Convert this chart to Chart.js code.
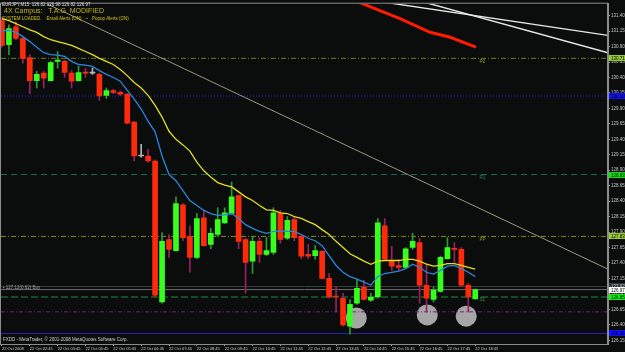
<!DOCTYPE html>
<html>
<head>
<meta charset="utf-8">
<script src="https://cdn.jsdelivr.net/npm/chart.js@4.4.1/dist/chart.umd.min.js"></script>
<style>
  html, body { margin: 0; padding: 0; background: #0a0d0c; }
</style>
</head>
<body>
<canvas id="chart" width="625" height="352"></canvas>
<script>
// EURJPY M15 candles, 22 Oct 2008 (bar 0 = 01:45)
const opens  = [131.32,130.93,131.22,131.03,130.72,130.35,130.47,130.35,130.66,130.66,130.47,130.35,130.48,130.47,130.45,130.11,130.19,130.16,130.13,129.68,129.13,129.13,129.05,126.77,127.78,127.60,128.34,127.83,127.49,128.13,127.70,127.86,128.05,128.20,128.49,127.78,127.43,127.75,127.54,127.57,128.20,127.80,128.10,127.83,127.54,127.52,127.59,127.15,126.86,126.83,126.38,126.75,127.01,126.80,126.85,128.00,127.43,127.36,127.33,127.65,127.73,127.04,126.81,126.94,127.47,127.63,127.62,127.04,126.82];
const highs  = [131.37,131.25,131.30,131.05,130.77,130.50,130.50,130.66,130.82,130.68,130.51,130.58,130.55,130.55,130.47,130.23,130.21,130.18,130.14,129.69,129.32,129.24,129.07,127.89,127.86,128.47,128.36,128.00,128.20,128.26,127.96,128.29,128.29,128.71,128.50,127.80,127.83,127.81,127.81,128.29,128.25,128.15,128.15,127.84,127.70,127.68,127.60,127.23,127.02,126.91,126.81,127.14,127.12,126.91,128.12,128.12,127.67,127.46,127.65,127.88,127.80,127.39,127.01,127.51,127.81,127.73,127.65,127.07,126.98];
const lows   = [130.89,130.77,131.01,130.63,130.14,130.23,130.23,130.34,130.55,130.40,130.23,130.34,130.40,130.45,130.03,130.06,130.14,130.11,129.65,129.05,129.11,129.03,126.85,126.75,127.49,127.59,127.76,127.25,127.47,127.67,127.63,127.83,128.04,128.18,127.63,126.91,127.23,127.41,127.52,127.54,127.72,127.78,127.76,127.47,127.47,127.46,127.14,126.83,126.61,126.38,126.25,126.73,126.80,126.78,126.83,127.44,127.28,127.28,127.31,127.62,126.75,126.61,126.77,126.93,127.46,127.41,127.02,126.61,126.82];
const closes = [130.92,131.19,131.03,130.71,130.35,130.45,130.39,130.64,130.68,130.48,130.34,130.48,130.47,130.47,130.10,130.19,130.16,130.13,129.66,129.13,129.13,129.05,126.88,127.75,127.62,128.36,127.81,127.49,128.12,127.68,127.88,128.10,128.21,128.47,127.75,127.41,127.75,127.54,127.60,128.21,127.78,128.09,127.81,127.51,127.51,127.60,127.15,126.85,126.85,126.40,126.73,126.99,126.81,126.85,128.05,127.46,127.35,127.33,127.63,127.75,127.04,126.83,126.96,127.49,127.65,127.62,127.04,126.85,126.97];

// moving averages
const maSlow = [131.35,131.32,131.27,131.22,131.17,131.13,131.06,131.01,130.98,130.95,130.92,130.87,130.82,130.77,130.71,130.66,130.61,130.53,130.43,130.32,130.23,130.11,129.95,129.76,129.53,129.40,129.31,129.21,129.03,128.89,128.79,128.70,128.66,128.63,128.55,128.47,128.41,128.33,128.26,128.25,128.21,128.20,128.15,128.12,128.07,128.02,127.94,127.86,127.75,127.65,127.55,127.49,127.43,127.38,127.43,127.44,127.44,127.44,127.46,127.46,127.43,127.38,127.35,127.36,127.39,127.39,127.36,127.33,127.30];
const maFast = [131.16,131.16,131.13,131.06,130.98,130.89,130.80,130.77,130.76,130.74,130.66,130.61,130.60,130.58,130.51,130.45,130.40,130.34,130.19,130.05,129.89,129.69,129.52,129.13,128.83,128.73,128.57,128.41,128.33,128.25,128.20,128.17,128.18,128.20,128.12,128.02,127.96,127.91,127.88,127.91,127.92,127.91,127.91,127.86,127.80,127.76,127.68,127.52,127.36,127.25,127.18,127.14,127.09,127.04,127.18,127.23,127.25,127.27,127.31,127.38,127.33,127.25,127.22,127.28,127.35,127.36,127.31,127.25,127.18];

// axis labels
const priceTicks = [126.15,126.40,126.65,126.90,127.15,127.40,127.65,127.90,128.15,128.40,128.65,128.90,129.15,129.40,129.65,129.90,130.15,130.40,130.65,130.90,131.15,131.40];
const timeTickBars = [0,4,8,12,16,20,24,28,32,36,40,44,48,52,56,60,64,68];
const timeTickLabels = ['22 Oct 2008','22 Oct 02:45','22 Oct 03:45','22 Oct 04:45','22 Oct 05:45','22 Oct 06:45','22 Oct 07:45','22 Oct 08:45','22 Oct 09:45','22 Oct 10:45','22 Oct 11:45','22 Oct 12:45','22 Oct 13:45','22 Oct 14:45','22 Oct 15:45','22 Oct 16:45','22 Oct 17:45','22 Oct 18:45'];

// pivot levels and other horizontal lines
const pivotNames  = ['R2','R1','PP','S1'];
const pivotValues = [130.71, 128.83, 127.83, 126.85];
const blueDotLevel = 130.10;
const orderLevel = 127.02;
const bidLevel = 126.97;
const purpleLevel = 126.61;
const blueLevel = 126.26;

// drawn objects
const trendX = [5.9, 87.07];
const trendY = [131.62, 127.30];
const whiteAX = [50, 87.07];
const whiteAY = [131.70, 131.08];
const whiteBX = [58, 87.07];
const whiteBY = [131.70, 130.80];
const redX = [50, 51.9, 54.3, 57.2, 61.5, 64.4, 68.1];
const redY = [131.67, 131.59, 131.48, 131.35, 131.13, 131.05, 130.89];
const circleX = [50.9, 61.1, 66.7];
const circleY = [126.51, 126.56, 126.54];

const X_MIN = -0.14, X_MAX = 87.07;
const Y_MIN = 126.09, Y_MAX = 131.593;
const FONT = 'Liberation Sans';

const bars = opens.map((_, i) => i);
const up = i => closes[i] > opens[i];
const down = i => closes[i] < opens[i];

const bodyData = bars.map(i => ({ x: i, y: [opens[i], closes[i]] }));
const wickData = bars.map(i => ({ x: i, y: [lows[i], highs[i]] }));
const bodyColors = bars.map(i => up(i) ? '#36ff1e' : down(i) ? '#ff2a0a' : '#b4b4b4');
const wickColors = bars.map(i => up(i) ? '#2c9a2c' : down(i) ? '#9a2060' : '#b4b4b4');

const pts = (xs, ys) => xs.map((x, i) => ({ x: x, y: ys[i] }));
const hline = (v) => [{ x: X_MIN, y: v }, { x: X_MAX, y: v }];
const lineSet = (data, color, width, dash, order) => ({
    type: 'line', data: data, borderColor: color, borderWidth: width,
    borderDash: dash || [], pointRadius: 0, tension: 0, order: order
});

const datasets = [
    lineSet(pts(bars, maFast), '#2a86dc', 1.3, null, 0),
    lineSet(pts(bars, maSlow), '#e4e01c', 1.3, null, 0),
    {
        type: 'bar', data: bodyData, backgroundColor: bodyColors,
        barThickness: 5, grouped: false, minBarLength: 1, order: 1
    },
    {
        type: 'bar', data: wickData, backgroundColor: wickColors,
        barThickness: 1, grouped: false, order: 2
    },
    lineSet(pts(redX, redY), '#ff1a00', 3, null, 3),
    lineSet(pts(whiteAX, whiteAY), '#e6e6e6', 1.4, null, 3),
    lineSet(pts(whiteBX, whiteBY), '#e6e6e6', 1.4, null, 3),
    lineSet(pts(trendX, trendY), '#9c9580', 1, null, 4),
    lineSet(hline(pivotValues[0]), '#6c7e1c', 1, [5, 2, 1, 2], 5),
    lineSet(hline(pivotValues[1]), '#1e6a58', 1, [6, 4], 5),
    lineSet(hline(pivotValues[2]), '#8a8a1a', 1, [5, 2, 1, 2], 5),
    lineSet(hline(pivotValues[3]), '#1f8a3c', 1, [7, 3], 5),
    lineSet(hline(blueDotLevel), '#2020ff', 1, [1, 2], 5),
    lineSet(hline(orderLevel), '#3a3f3d', 1, null, 5),
    lineSet(hline(bidLevel), '#6e6e6e', 1, null, 5),
    lineSet(hline(purpleLevel), '#7a1a90', 1, [4, 2, 1, 2], 5),
    lineSet(hline(blueLevel), '#2222b0', 1.2, null, 5),
    {
        type: 'scatter', data: pts(circleX, circleY), backgroundColor: '#a6a6a6',
        borderWidth: 0, pointRadius: 10.5, order: 6
    }
];

const decor = {
    id: 'decor',
    beforeDraw(chart) {
        const c = chart.ctx;
        c.save();
        c.fillStyle = '#0a0d0c';
        c.fillRect(0, 0, chart.width, chart.height);
        c.restore();
    },
    afterDraw(chart) {
        const c = chart.ctx, a = chart.chartArea;
        const xs = chart.scales.x, ys = chart.scales.y;
        c.save();
        c.strokeStyle = '#8c8c8c';
        c.lineWidth = 1;
        c.strokeRect(a.left - 0.5, a.top - 0.5, a.right - a.left, a.bottom - a.top + 1);

        c.textBaseline = 'middle';
        c.textAlign = 'left';
        c.fillStyle = '#dcdcdc';
        c.font = '4.5px "' + FONT + '"';
        c.fillText('EURJPY,M15  126.82 126.98 126.82 126.97', 2, 5);
        c.fillStyle = '#c8b41e';
        c.font = '7px "' + FONT + '"';
        c.fillText('4X Campus:   T.A.G  MODIFIED', 4, 11.5);
        c.fillStyle = '#d6c41c';
        c.font = '4.5px "' + FONT + '"';
        c.fillText('SYSTEM LOADED.    Email Alerts (ON)   --   Popup Alerts (ON)', 2, 19);
        c.fillStyle = '#d0d0d0';
        c.fillText('FXDD - MetaTrader, \u00a9 2001-2008 MetaQuotes Software Corp.', 3, 340);
        c.fillStyle = '#a0a0a0';
        c.fillText('\u25aa 127.12(0.62) Buy', 3, ys.getPixelForValue(orderLevel) + 1);

        const pivotColors = ['#8a9a2a', '#2a8a6a', '#9a9a2a', '#2aa04a'];
        pivotNames.forEach((n, i) => {
            c.fillStyle = pivotColors[i];
            c.fillText(n, xs.getPixelForValue(68.6), ys.getPixelForValue(pivotValues[i]) + 3);
        });

        const boxes = [
            [pivotValues[0], '#9acd32', '#000'],
            [blueDotLevel, '#1010ff', '#000'],
            [pivotValues[1], '#10e010', '#000'],
            [pivotValues[2], '#9acd32', '#000'],
            [orderLevel, '#2a3a3a', '#ccc'],
            [bidLevel, '#ffffff', '#000'],
            [pivotValues[3], '#10f010', '#000'],
            [blueLevel, '#1010ff', '#000']
        ];
        boxes.forEach(b => {
            const y = Math.round(ys.getPixelForValue(b[0]));
            c.fillStyle = b[1];
            c.fillRect(a.right + 1, y - 3, chart.width - a.right - 1, 6);
            c.fillStyle = b[2];
            c.fillText(b[0].toFixed(2), a.right + 3, y + 0.5);
        });
        c.restore();
    }
};

new Chart(document.getElementById('chart'), {
    type: 'bar',
    data: { datasets: datasets },
    plugins: [decor],
    options: {
        responsive: false,
        animation: false,
        events: [],
        layout: { autoPadding: false, padding: { left: 1, top: 2, right: 0, bottom: 0 } },
        plugins: { legend: { display: false }, tooltip: { enabled: false } },
        scales: {
            x: {
                type: 'linear',
                min: X_MIN,
                max: X_MAX,
                offset: false,
                afterBuildTicks: (s) => { s.ticks = timeTickBars.map(v => ({ value: v })); },
                afterFit: (s) => { s.height = 8; },
                grid: { display: true, drawOnChartArea: false, drawTicks: true, tickLength: 2, color: '#9a9a9a', offset: false },
                border: { display: true, color: '#8c8c8c' },
                ticks: {
                    autoSkip: false,
                    maxRotation: 0,
                    align: 'start',
                    padding: 0,
                    color: '#d0d0d0',
                    font: { family: FONT, size: 4 },
                    callback: (v, i) => timeTickLabels[i]
                }
            },
            y: {
                position: 'right',
                min: Y_MIN,
                max: Y_MAX,
                afterBuildTicks: (s) => { s.ticks = priceTicks.map(v => ({ value: v })); },
                afterFit: (s) => { s.width = 17; },
                grid: { display: true, drawOnChartArea: false, drawTicks: true, tickLength: 2, color: '#9a9a9a' },
                border: { display: true, color: '#8c8c8c' },
                ticks: {
                    padding: 1,
                    color: '#c8c8c8',
                    font: { family: FONT, size: 4.5 },
                    callback: (v) => Number(v).toFixed(2)
                }
            }
        }
    }
});
</script>
</body>
</html>
